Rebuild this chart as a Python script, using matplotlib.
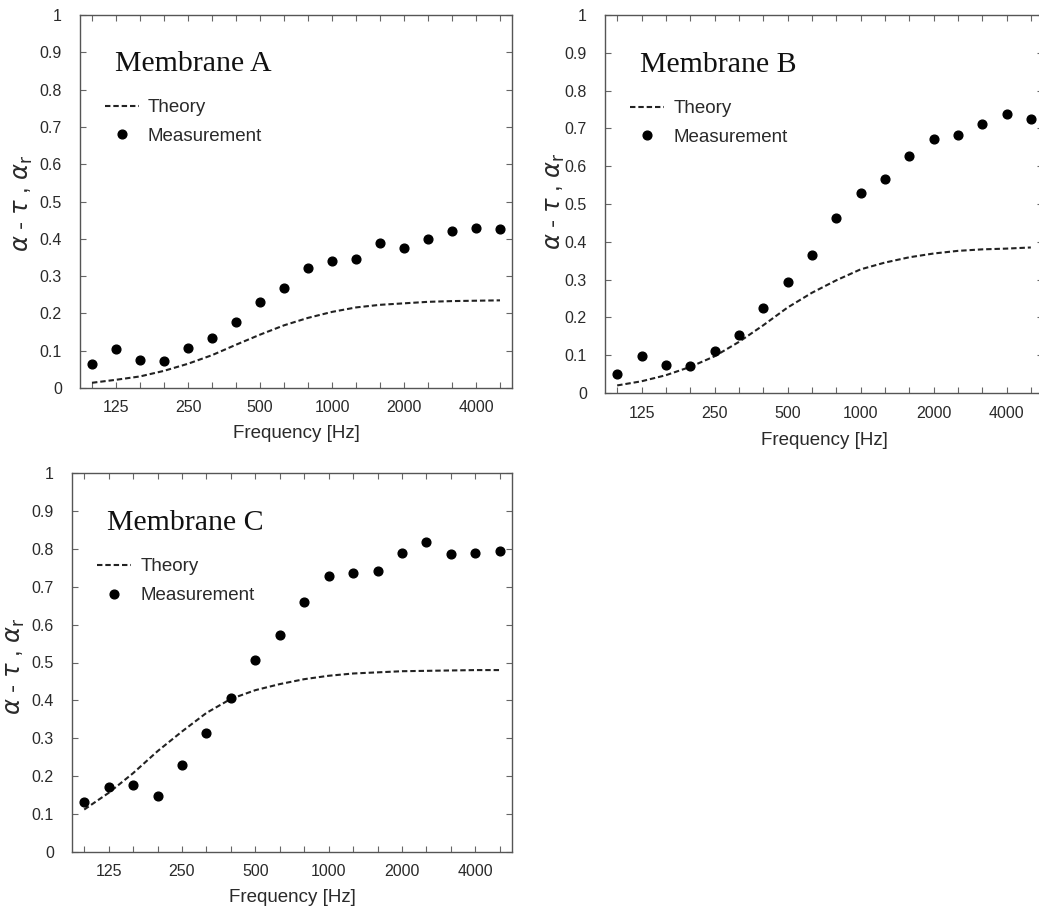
import matplotlib
matplotlib.use("Agg")
import matplotlib.pyplot as plt
import numpy as np

plt.rcParams["font.family"] = ["Liberation Sans", "DejaVu Sans"]
plt.rcParams["mathtext.fontset"] = "dejavusans"

bands = [100, 125, 160, 200, 250, 315, 400, 500, 630, 800, 1000,
         1250, 1600, 2000, 2500, 3150, 4000, 5000]
tick_labels = ["125", "250", "500", "1000", "2000", "4000"]

meas_A = [0.065, 0.105, 0.075, 0.073, 0.108, 0.135, 0.178, 0.230, 0.268,
          0.323, 0.340, 0.345, 0.390, 0.375, 0.400, 0.422, 0.430, 0.425]
theory_A = [0.014, 0.022, 0.031, 0.046, 0.065, 0.088, 0.116, 0.143, 0.168,
            0.188, 0.204, 0.216, 0.223, 0.227, 0.231, 0.233, 0.234, 0.235]

meas_B = [0.049, 0.099, 0.075, 0.071, 0.111, 0.154, 0.224, 0.294, 0.366,
          0.462, 0.530, 0.565, 0.628, 0.671, 0.683, 0.711, 0.737, 0.724]
theory_B = [0.020, 0.031, 0.047, 0.069, 0.097, 0.135, 0.179, 0.226, 0.265,
            0.298, 0.327, 0.345, 0.359, 0.369, 0.376, 0.380, 0.382, 0.385]

meas_C = [0.132, 0.172, 0.178, 0.148, 0.230, 0.314, 0.406, 0.506, 0.572,
          0.660, 0.729, 0.736, 0.742, 0.788, 0.817, 0.786, 0.788, 0.795]
theory_C = [0.112, 0.156, 0.208, 0.266, 0.318, 0.367, 0.404, 0.427, 0.443,
            0.456, 0.465, 0.471, 0.474, 0.477, 0.478, 0.479, 0.480, 0.480]

W, H = 1039, 911
fig = plt.figure(figsize=(W / 100, H / 100), dpi=100)


def px_axes(left, right, top, bottom):
    return fig.add_axes([left / W, 1 - bottom / H, (right - left) / W, (bottom - top) / H])


panels = [
    ("Membrane A", meas_A, theory_A, (80, 512, 15, 388), (-0.104, 0.496), 7),
    ("Membrane B", meas_B, theory_B, (605, 1043, 15, 393), (-0.087, 0.508), 8),
    ("Membrane C", meas_C, theory_C, (72, 512, 473, 852), (-0.102, 0.49), 7),
]

tick_color = "#2a2a2a"
for title, meas, theory, box, lab, xpad in panels:
    ax = px_axes(*box)
    x = np.arange(len(bands))
    ax.plot(x, theory, linestyle=(0, (2.6, 1.4)), color="#222222", lw=1.5, label="Theory")
    ax.plot(x, meas, "o", color="black", ms=6.3, label="Measurement", linestyle="none")
    ax.set_xlim(-0.5, len(bands) - 0.5)
    ax.set_ylim(0, 1)
    ax.set_yticks(np.round(np.arange(0, 1.01, 0.1), 1))
    ax.set_yticklabels(["0", "0.1", "0.2", "0.3", "0.4", "0.5", "0.6", "0.7",
                        "0.8", "0.9", "1"])
    lab_pos = [bands.index(int(t)) for t in tick_labels]
    ax.set_xticks(x, minor=True)
    ax.set_xticks(lab_pos)
    ax.set_xticklabels(tick_labels)
    ax.tick_params(axis="both", which="both", direction="in", top=True, right=True,
                   length=4, width=0.8, color="#666666", labelsize=11.5,
                   labelcolor=tick_color)
    ax.tick_params(axis="x", which="major", pad=9)
    ax.tick_params(axis="y", which="major", pad=13)
    for sp in ax.spines.values():
        sp.set_color("#555555")
        sp.set_linewidth(1.0)
    ax.set_xlabel("Frequency [Hz]", fontsize=13.5, color=tick_color, labelpad=xpad)
    ax.set_ylabel(r"$\alpha$ - $\tau$ , $\alpha_{\mathrm{r}}$", fontsize=17.5, color=tick_color)
    ax.yaxis.set_label_coords(*lab)
    ax.text(0.08, 0.868, title, transform=ax.transAxes, fontsize=21.5,
            family="Liberation Serif", va="center", ha="left", color="#111111")
    ax.legend(loc="upper left", bbox_to_anchor=(0.04, 0.795), frameon=False,
              fontsize=13.5, handlelength=1.8, handletextpad=0.5,
              labelspacing=0.62, borderaxespad=0, labelcolor=tick_color)

fig.savefig("out.png", dpi=100)
